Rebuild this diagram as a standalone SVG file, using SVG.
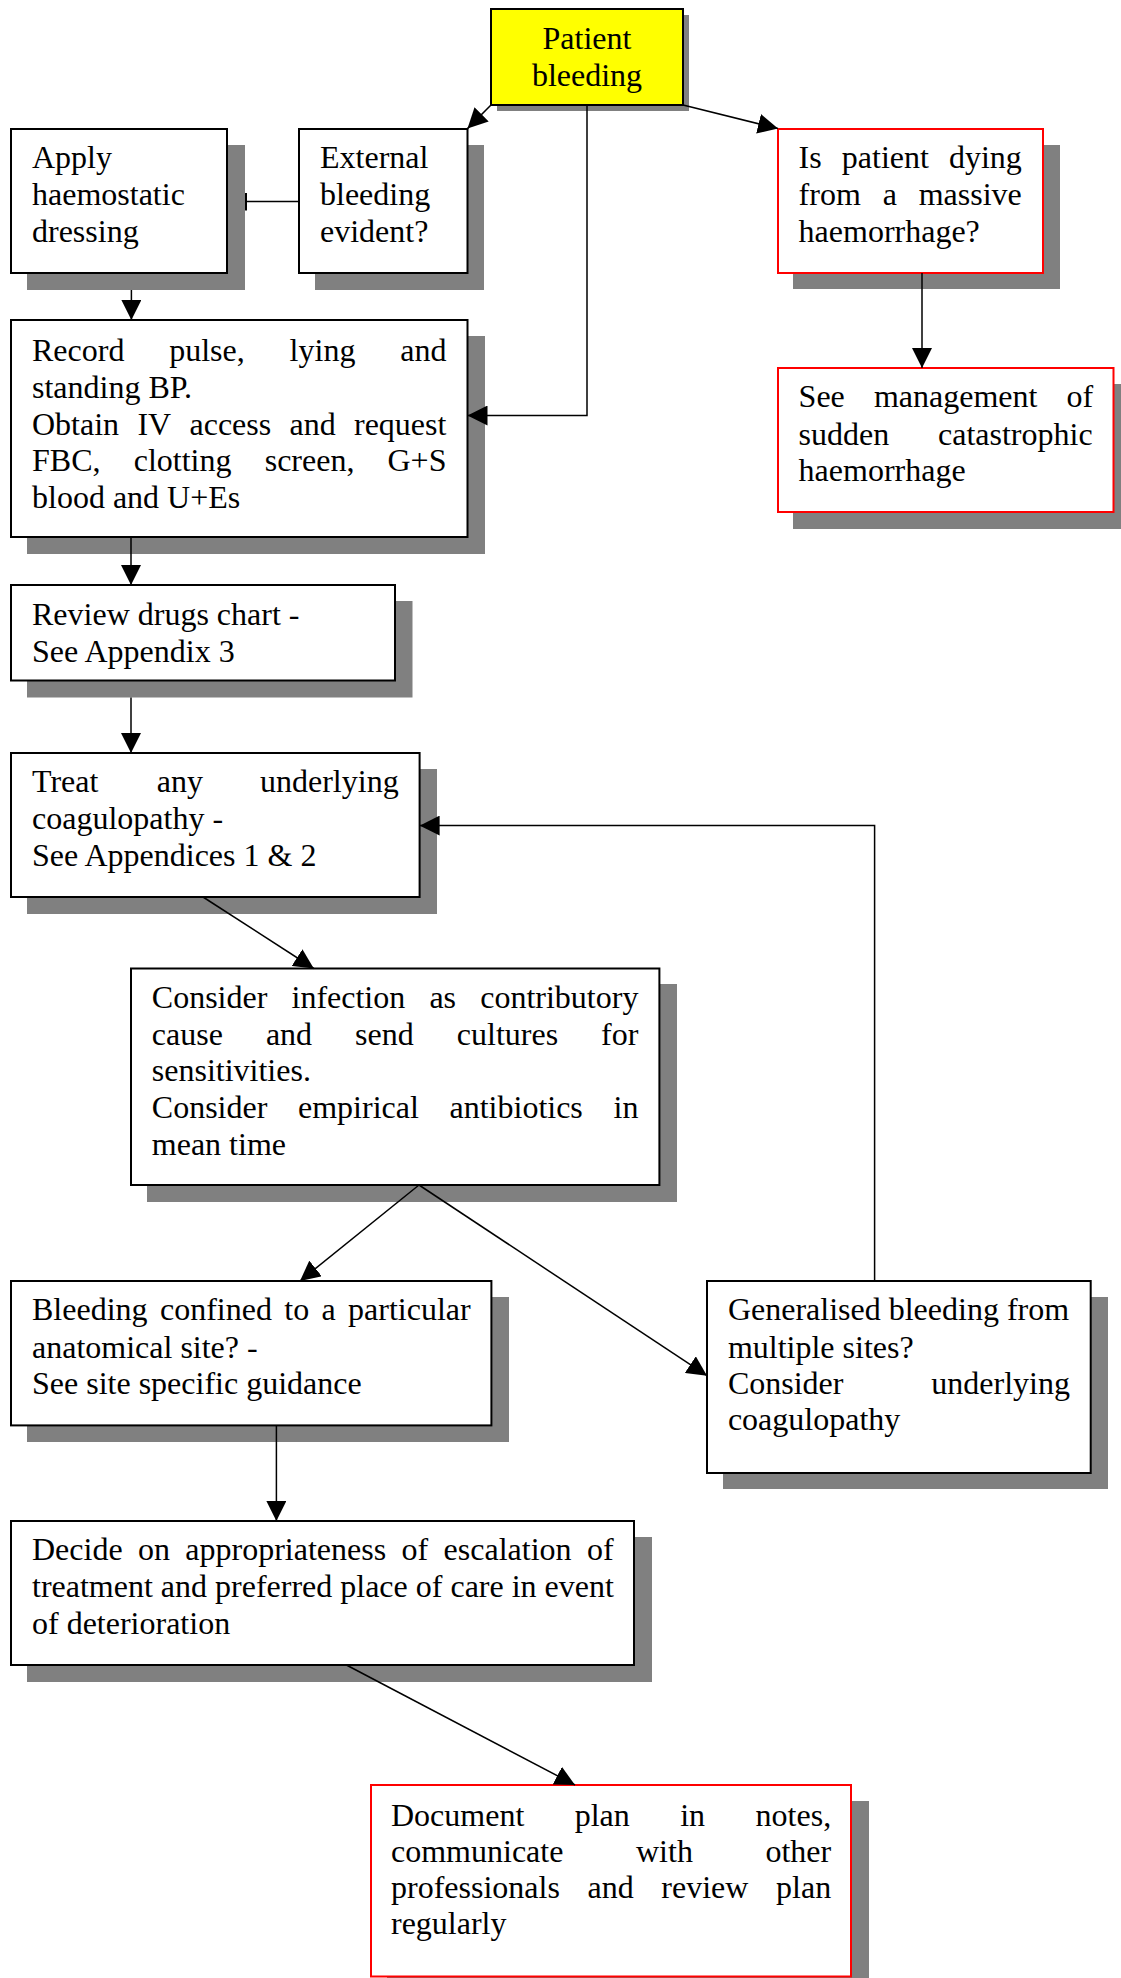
<svg xmlns="http://www.w3.org/2000/svg" width="1121" height="1978" viewBox="0 0 1121 1978">
<style>
.sh{fill:#808080;stroke:none}
.bx{fill:#fff;stroke:#000;stroke-width:2}
.rb{fill:#fff;stroke:#ff0000;stroke-width:2}
.yb{fill:#ffff00;stroke:#000;stroke-width:2}
text{font-family:"Liberation Serif","Times New Roman",serif;font-size:32px;fill:#000}
.c{text-anchor:middle}
.ln{fill:none;stroke:#000;stroke-width:1.5}
</style>
<defs>
<marker id="arr" viewBox="0 0 20 20" refX="20" refY="10" markerWidth="20" markerHeight="20" markerUnits="userSpaceOnUse" orient="auto"><path d="M0,0 L20,10 L0,20 z" fill="#000"/></marker>
<marker id="tee" viewBox="0 0 4 18" refX="2" refY="9" markerWidth="4" markerHeight="18" markerUnits="userSpaceOnUse" orient="auto"><rect x="1" y="0" width="2" height="18" fill="#000"/></marker>
</defs>
<rect width="1121" height="1978" fill="#fff"/>

<g id="patient">
<rect class="sh" x="497" y="15" width="192" height="96"/>
<rect class="yb" x="491" y="9" width="192" height="96"/>
<text class="c" x="587" y="49">Patient</text>
<text class="c" x="587" y="86">bleeding</text>
</g>

<g id="apply">
<rect class="sh" x="27" y="145" width="218" height="145"/>
<rect class="bx" x="11" y="129" width="216" height="144"/>
<text x="32" y="168">Apply</text>
<text x="32" y="205">haemostatic</text>
<text x="32" y="242">dressing</text>
</g>

<g id="external">
<rect class="sh" x="315" y="145" width="169" height="145"/>
<rect class="bx" x="299" y="129" width="168.5" height="144"/>
<text x="320" y="168">External</text>
<text x="320" y="205">bleeding</text>
<text x="320" y="242">evident?</text>
</g>

<g id="dying">
<rect class="sh" x="793" y="145" width="267" height="144"/>
<rect class="rb" x="778" y="129" width="265" height="144"/>
<text y="168"><tspan x="798.6">Is</tspan><tspan x="841.8">patient</tspan><tspan x="948.9">dying</tspan></text>
<text y="205"><tspan x="798.6">from</tspan><tspan x="882.7">a</tspan><tspan x="918.7">massive</tspan></text>
<text x="798.6" y="242">haemorrhage?</text>
</g>

<g id="see">
<rect class="sh" x="793" y="384" width="337" height="145"/>
<rect class="rb" x="778" y="368" width="335.5" height="144"/>
<text y="407"><tspan x="798.6">See</tspan><tspan x="873.9">management</tspan><tspan x="1066.5">of</tspan></text>
<text y="444.6"><tspan x="798.6">sudden</tspan><tspan x="938">catastrophic</tspan></text>
<text x="798.6" y="481.4">haemorrhage</text>
</g>

<g id="record">
<rect class="sh" x="27" y="336" width="458" height="218"/>
<rect class="bx" x="11" y="320" width="456.5" height="217"/>
<text y="360.7"><tspan x="32">Record</tspan><tspan x="169.2">pulse,</tspan><tspan x="289.6">lying</tspan><tspan x="400.2">and</tspan></text>
<text x="32" y="397.5">standing BP.</text>
<text y="434.6"><tspan x="32">Obtain</tspan><tspan x="137.4">IV</tspan><tspan x="189.5">access</tspan><tspan x="289.5">and</tspan><tspan x="354">request</tspan></text>
<text y="471.4"><tspan x="32">FBC,</tspan><tspan x="133.7">clotting</tspan><tspan x="264.7">screen,</tspan><tspan x="387.5">G+S</tspan></text>
<text x="32" y="508">blood and U+Es</text>
</g>

<g id="review">
<rect class="sh" x="27" y="601" width="385.5" height="96.5"/>
<rect class="bx" x="11" y="585" width="384" height="95.5"/>
<text x="32" y="624.7">Review drugs chart -</text>
<text x="32" y="661.8">See Appendix 3</text>
</g>

<g id="treat">
<rect class="sh" x="27" y="769" width="410" height="145"/>
<rect class="bx" x="11" y="753" width="408.6" height="144"/>
<text y="792"><tspan x="32">Treat</tspan><tspan x="156.8">any</tspan><tspan x="260">underlying</tspan></text>
<text x="32" y="829">coagulopathy -</text>
<text x="32" y="866">See Appendices 1 &amp; 2</text>
</g>

<g id="consider">
<rect class="sh" x="147" y="984" width="530" height="218"/>
<rect class="bx" x="131" y="968.5" width="528.4" height="216.5"/>
<text y="1007.8"><tspan x="151.8">Consider</tspan><tspan x="291.5">infection</tspan><tspan x="429.4">as</tspan><tspan x="480.2">contributory</tspan></text>
<text y="1045.3"><tspan x="151.8">cause</tspan><tspan x="265.9">and</tspan><tspan x="355.1">send</tspan><tspan x="456.8">cultures</tspan><tspan x="601.1">for</tspan></text>
<text x="151.8" y="1081.4">sensitivities.</text>
<text y="1118"><tspan x="151.8">Consider</tspan><tspan x="298">empirical</tspan><tspan x="449.5">antibiotics</tspan><tspan x="613.5">in</tspan></text>
<text x="151.8" y="1155">mean time</text>
</g>

<g id="bleeding">
<rect class="sh" x="27" y="1297" width="482" height="145"/>
<rect class="bx" x="11" y="1281" width="480.4" height="144.4"/>
<text y="1320.4"><tspan x="32">Bleeding</tspan><tspan x="160">confined</tspan><tspan x="284.3">to</tspan><tspan x="321.6">a</tspan><tspan x="348.1">particular</tspan></text>
<text x="32" y="1357.5">anatomical site? -</text>
<text x="32" y="1394.3">See site specific guidance</text>
</g>

<g id="generalised">
<rect class="sh" x="723" y="1297" width="385" height="192"/>
<rect class="bx" x="707" y="1281" width="383.7" height="192"/>
<text x="727.9" y="1320">Generalised bleeding from</text>
<text x="727.9" y="1357.5">multiple sites?</text>
<text y="1394.3"><tspan x="727.9">Consider</tspan><tspan x="931.3">underlying</tspan></text>
<text x="727.9" y="1430">coagulopathy</text>
</g>

<g id="decide">
<rect class="sh" x="27" y="1537" width="625" height="145"/>
<rect class="bx" x="11" y="1521" width="623" height="144"/>
<text y="1560"><tspan x="32">Decide</tspan><tspan x="138">on</tspan><tspan x="185.3">appropriateness</tspan><tspan x="401.5">of</tspan><tspan x="443.6">escalation</tspan><tspan x="586.9">of</tspan></text>
<text x="32" y="1597">treatment and preferred place of care in event</text>
<text x="32" y="1634">of deterioration</text>
</g>

<g id="document">
<rect class="sh" x="387" y="1801" width="482" height="200"/>
<rect class="rb" x="371" y="1785" width="480" height="191.5"/>
<text y="1826"><tspan x="391">Document</tspan><tspan x="574.7">plan</tspan><tspan x="680.2">in</tspan><tspan x="755.6">notes,</tspan></text>
<text y="1862"><tspan x="391">communicate</tspan><tspan x="636">with</tspan><tspan x="765.4">other</tspan></text>
<text y="1898"><tspan x="391">professionals</tspan><tspan x="587.5">and</tspan><tspan x="661.3">review</tspan><tspan x="776.1">plan</tspan></text>
<text x="391" y="1934">regularly</text>
</g>

<g id="connectors">
<path class="ln" d="M491,105 L467.5,128.6" marker-end="url(#arr)"/>
<path class="ln" d="M683,105 L778,128.6" marker-end="url(#arr)"/>
<path class="ln" d="M587,105 L587,415.5 L467.5,415.5" marker-end="url(#arr)"/>
<path class="ln" d="M299,201.5 L246,201.5" marker-end="url(#tee)"/>
<path class="ln" d="M131.4,290 L131.4,320" marker-end="url(#arr)"/>
<path class="ln" d="M922,273 L922,368" marker-end="url(#arr)"/>
<path class="ln" d="M131,537 L131,585" marker-end="url(#arr)"/>
<path class="ln" d="M131,697.5 L131,753" marker-end="url(#arr)"/>
<path class="ln" d="M203,897 L313.8,968.5" marker-end="url(#arr)"/>
<path class="ln" d="M419,1185 L300,1281" marker-end="url(#arr)"/>
<path class="ln" d="M419,1185 L707,1375.7" marker-end="url(#arr)"/>
<path class="ln" d="M874.6,1281 L874.6,825.6 L419.6,825.6" marker-end="url(#arr)"/>
<path class="ln" d="M276.4,1425.4 L276.4,1521" marker-end="url(#arr)"/>
<path class="ln" d="M346.4,1665 L575,1785" marker-end="url(#arr)"/>
</g>
</svg>
